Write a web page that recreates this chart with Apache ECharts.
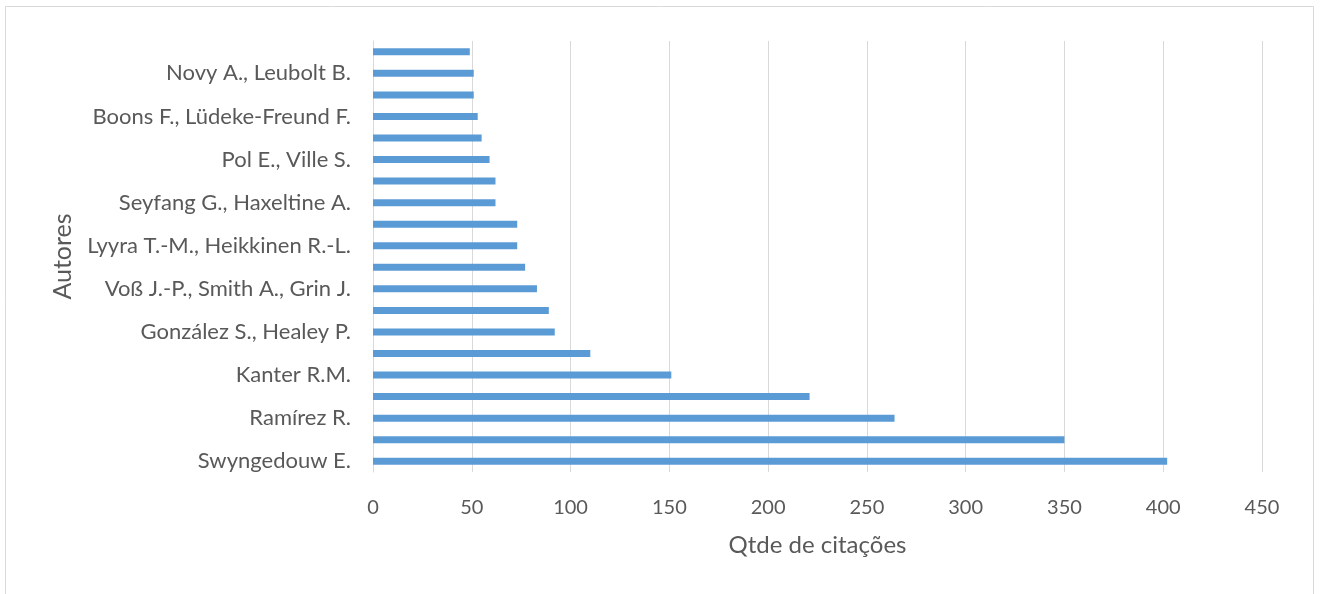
<!DOCTYPE html>
<html>
<head>
<meta charset="utf-8">
<script src="https://cdn.jsdelivr.net/npm/echarts@6/dist/echarts.min.js"></script>
<style>
html,body{margin:0;padding:0;background:#fff;}
#chart{width:1321px;height:594px;}
</style>
</head>
<body>
<div id="chart"></div>
<script>
// Categories from bottom to top (hidden labels are unreadable in the reference; placeholders)
const categories = [
  "Swyngedouw E.", "(autor 2)", "Ramírez R.", "(autor 4)", "Kanter R.M.",
  "(autor 6)", "González S., Healey P.", "(autor 8)", "Voß J.-P., Smith A., Grin J.", "(autor 10)",
  "Lyyra T.-M., Heikkinen R.-L.", "(autor 12)", "Seyfang G., Haxeltine A.", "(autor 14)", "Pol E., Ville S.",
  "(autor 16)", "Boons F., Lüdeke-Freund F.", "(autor 18)", "Novy A., Leubolt B.", "(autor 20)"
];
const citations = [402, 350, 264, 221, 151, 110, 92, 89, 83, 77, 73, 73, 62, 62, 59, 55, 53, 51, 51, 49];
const xTitle = "Qtde de citações";
const yTitle = "Autores";

const font = "Lato, 'Open Sans', sans-serif";
const chart = echarts.init(document.getElementById('chart'));
chart.setOption({
  animation: false,
  backgroundColor: '#ffffff',
  graphic: [{
    type: 'rect', shape: {x: 5.5, y: 6.5, width: 1308, height: 600},
    style: {fill: 'none', stroke: '#d9d9d9', lineWidth: 1}, silent: true
  }],
  grid: {left: 373, right: 59, top: 41, bottom: 122, containLabel: false},
  xAxis: {
    type: 'value', min: 0, max: 450, interval: 50,
    name: xTitle, nameLocation: 'middle', nameGap: 61,
    nameTextStyle: {fontFamily: font, fontSize: 24, color: '#595959'},
    axisLine: {show: false}, axisTick: {show: false},
    axisLabel: {fontFamily: font, fontSize: 20, color: '#595959', margin: 26},
    splitLine: {show: true, lineStyle: {color: '#d9d9d9', width: 1}}
  },
  yAxis: {
    type: 'category', data: categories,
    name: yTitle, nameLocation: 'middle', nameGap: 298, nameRotate: 90,
    nameTextStyle: {fontFamily: font, fontSize: 25, color: '#595959'},
    axisLine: {show: true, lineStyle: {color: '#d9d9d9', width: 1}},
    axisTick: {show: false},
    axisLabel: {interval: 1, fontFamily: font, fontSize: 22, color: '#595959', margin: 22}
  },
  series: [{
    type: 'bar', data: citations, barWidth: 7,
    itemStyle: {color: '#5b9bd5'}
  }]
});
</script>
</body>
</html>
